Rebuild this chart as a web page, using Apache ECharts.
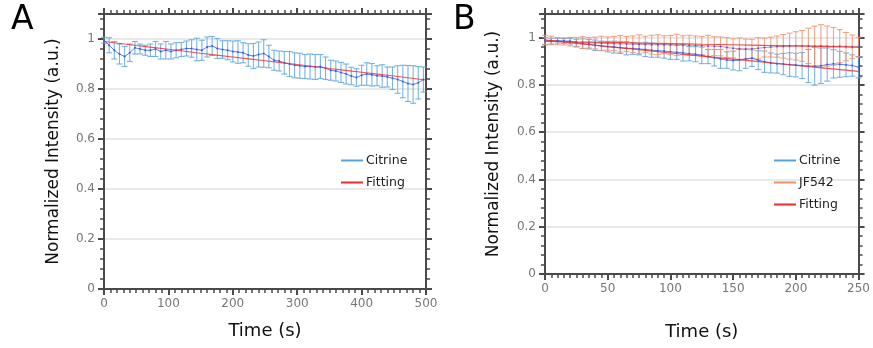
<!DOCTYPE html>
<html>
<head>
<meta charset="utf-8">
<script src="https://cdn.jsdelivr.net/npm/echarts@6/dist/echarts.min.js"></script>
<style>html,body{margin:0;padding:0;background:#fff;}#c{width:873px;height:348px;}</style>
</head>
<body>
<div id="c"></div>
<script>
// ---- Panel A data ----
const timeA = [0,8,16,24,32,40,48,56,64,72,80,88,96,104,112,120,128,136,144,152,160,168,176,184,192,200,208,216,224,232,240,248,256,264,272,280,288,296,304,312,320,328,336,344,352,360,368,376,384,392,400,408,416,424,432,440,448,456,464,472,480,488,496];
const citrineA = [0.995,0.975,0.955,0.94,0.93,0.945,0.965,0.96,0.955,0.955,0.96,0.95,0.955,0.95,0.955,0.958,0.962,0.962,0.958,0.955,0.968,0.972,0.962,0.958,0.955,0.95,0.948,0.945,0.936,0.932,0.938,0.942,0.93,0.915,0.912,0.905,0.9,0.895,0.893,0.89,0.89,0.888,0.89,0.883,0.875,0.872,0.866,0.86,0.852,0.846,0.855,0.86,0.857,0.853,0.852,0.848,0.843,0.838,0.83,0.822,0.818,0.825,0.838];
const citrineAErr = [0.012,0.03,0.035,0.04,0.04,0.035,0.025,0.02,0.02,0.025,0.03,0.03,0.035,0.03,0.03,0.028,0.03,0.035,0.045,0.04,0.04,0.038,0.04,0.035,0.038,0.042,0.045,0.04,0.045,0.05,0.05,0.055,0.045,0.04,0.04,0.045,0.05,0.05,0.05,0.048,0.05,0.05,0.048,0.045,0.04,0.04,0.04,0.04,0.035,0.035,0.04,0.045,0.045,0.04,0.045,0.04,0.045,0.055,0.065,0.072,0.075,0.065,0.05];
const fitTimeA = [0,50,100,150,200,250,300,350,400,450,500];
const fitA = [0.990,0.974,0.959,0.943,0.928,0.913,0.898,0.882,0.867,0.852,0.836];

// ---- Panel B data ----
const timeB = [0,5,10,15,20,25,30,35,40,45,50,55,60,65,70,75,80,85,90,95,100,105,110,115,120,125,130,135,140,145,150,155,160,165,170,175,180,185,190,195,200,205,210,215,220,225,230,235,240,245,250];
const citrineB = [0.985,0.985,0.987,0.986,0.985,0.978,0.975,0.972,0.968,0.965,0.962,0.96,0.958,0.955,0.954,0.952,0.95,0.947,0.945,0.943,0.94,0.938,0.936,0.932,0.93,0.925,0.92,0.915,0.91,0.905,0.903,0.905,0.91,0.913,0.905,0.898,0.893,0.89,0.888,0.886,0.884,0.882,0.88,0.879,0.881,0.886,0.889,0.887,0.885,0.882,0.875];
const citrineBErr = [0.015,0.012,0.01,0.01,0.012,0.015,0.02,0.02,0.022,0.02,0.022,0.025,0.025,0.028,0.025,0.025,0.03,0.03,0.028,0.03,0.032,0.03,0.035,0.03,0.032,0.035,0.03,0.035,0.04,0.035,0.04,0.045,0.04,0.035,0.04,0.045,0.042,0.04,0.045,0.05,0.05,0.055,0.07,0.08,0.075,0.07,0.06,0.055,0.05,0.045,0.045];
const jfB = [0.99,0.988,0.985,0.984,0.983,0.98,0.979,0.978,0.977,0.976,0.975,0.975,0.974,0.973,0.972,0.972,0.971,0.97,0.97,0.97,0.969,0.969,0.968,0.968,0.967,0.966,0.965,0.964,0.963,0.958,0.955,0.953,0.952,0.953,0.955,0.958,0.96,0.962,0.963,0.964,0.965,0.965,0.965,0.964,0.965,0.964,0.963,0.964,0.962,0.961,0.96];
const jfBErr = [0.02,0.018,0.015,0.015,0.018,0.02,0.025,0.022,0.025,0.03,0.028,0.03,0.035,0.032,0.035,0.04,0.035,0.04,0.042,0.038,0.04,0.045,0.04,0.042,0.04,0.038,0.045,0.04,0.04,0.042,0.04,0.045,0.042,0.04,0.045,0.04,0.042,0.045,0.05,0.055,0.06,0.065,0.075,0.085,0.09,0.085,0.08,0.07,0.06,0.05,0.042];
const fitTimeB = [0,25,50,75,100,125,150,175,200,225,250];
const fitCitrineB = [0.990,0.976,0.962,0.949,0.935,0.922,0.909,0.896,0.883,0.870,0.857];
const fitJfB = [0.985,0.982,0.980,0.977,0.975,0.972,0.970,0.967,0.965,0.962,0.960];

const yTicks = [0,0.2,0.4,0.6,0.8,1];

const FONT = 'DejaVu Sans';
const AX = '#4a4a4a';
const BLUE_ERR = '#58a3dc';
const ORANGE_ERR = '#ef8f68';
const MEAN = '#3a5bf0';
const FIT = '#ee2a2a';

function errRender(params, api) {
  const x = api.value(0), lo = api.value(1), hi = api.value(2);
  const p1 = api.coord([x, lo]), p2 = api.coord([x, hi]);
  const cw = 3;
  const style = { stroke: api.visual('color'), lineWidth: 1.1, opacity: 0.8 };
  return { type: 'group', children: [
    { type: 'line', shape: { x1: p1[0], y1: p1[1], x2: p2[0], y2: p2[1] }, style: style },
    { type: 'line', shape: { x1: p1[0]-cw, y1: p1[1], x2: p1[0]+cw, y2: p1[1] }, style: style },
    { type: 'line', shape: { x1: p2[0]-cw, y1: p2[1], x2: p2[0]+cw, y2: p2[1] }, style: style }
  ]};
}
function errData(t, m, e) { return t.map((v, i) => [v, m[i]-e[i], m[i]+e[i]]); }
function pts(t, m) { return t.map((v, i) => [v, m[i]]); }

function xAxes(grid, max, interval, nameGap) {
  const common = {
    type: 'value', gridIndex: grid, min: 0, max: max, interval: interval,
    axisLine: { show: true, onZero: false, lineStyle: { color: AX, width: 2 } },
    axisTick: { show: true, length: 6, lineStyle: { color: AX, width: 2 } },
    minorTick: { show: true, splitNumber: 10, length: 4, lineStyle: { color: AX, width: 1.5 } },
    splitLine: { show: false }
  };
  return [
    Object.assign({}, common, {
      position: 'bottom',
      axisLabel: { color: '#777', fontFamily: FONT, fontSize: 12, margin: 9 },
      name: 'Time (s)', nameLocation: 'middle', nameGap: nameGap,
      nameTextStyle: { color: '#111', fontFamily: FONT, fontSize: 18 }
    }),
    Object.assign({}, common, { position: 'top', axisLabel: { show: false } })
  ];
}
function yAxes(grid, nameGap) {
  const common = {
    type: 'value', gridIndex: grid, min: 0, max: 1.1, interval: 0.2,
    axisLine: { show: true, onZero: false, lineStyle: { color: AX, width: 2 } },
    axisTick: { show: true, length: 6, lineStyle: { color: AX, width: 2 } },
    minorTick: { show: true, splitNumber: 5, length: 4, lineStyle: { color: AX, width: 1.5 } }
  };
  return [
    Object.assign({}, common, {
      position: 'left',
      axisLabel: { color: '#777', fontFamily: FONT, fontSize: 12, margin: 9, showMaxLabel: false,
        formatter: v => yTicks.indexOf(+v.toFixed(2)) >= 0 ? String(+v.toFixed(2)) : '' },
      splitLine: { show: true, lineStyle: { color: '#e2e2e2', width: 1.5 } },
      name: 'Normalized Intensity (a.u.)', nameLocation: 'middle', nameGap: nameGap, nameRotate: 90,
      nameTextStyle: { color: '#111', fontFamily: FONT, fontSize: 17 }
    }),
    Object.assign({}, common, { position: 'right', axisLabel: { show: false }, splitLine: { show: false } })
  ];
}

const chart = echarts.init(document.getElementById('c'), null, { renderer: 'canvas' });
const xa = xAxes(0, 500, 100, 33).concat(xAxes(1, 250, 50, 49));
const ya = yAxes(0, 42).concat(yAxes(1, 43));

chart.setOption({
  animation: false,
  backgroundColor: '#fff',
  textStyle: { fontFamily: FONT },
  grid: [
    { left: 104, top: 14, width: 322, height: 275 },
    { left: 545, top: 14, width: 318, height: 260 }
  ],
  xAxis: xa,
  yAxis: ya,
  legend: [
    { data: ['Citrine', 'Fitting'], orient: 'vertical', left: 336, top: 149, itemWidth: 22, itemHeight: 2, itemGap: 9,
      icon: 'rect', textStyle: { color: '#222', fontFamily: FONT, fontSize: 12.5, padding: [0,0,0,-2] } },
    { data: ['Citrine', 'JF542', 'Fitting'], orient: 'vertical', left: 769, top: 149, itemWidth: 22, itemHeight: 2, itemGap: 9,
      icon: 'rect', textStyle: { color: '#222', fontFamily: FONT, fontSize: 12.5, padding: [0,0,0,-2] } }
  ],
  graphic: [
    { type: 'text', left: 11, top: 4, style: { text: 'A', font: '33px "DejaVu Sans"', fill: '#000' } },
    { type: 'text', left: 453, top: 4, style: { text: 'B', font: '33px "DejaVu Sans"', fill: '#000' } }
  ],
  series: [
    // Panel A
    { name: 'Citrine', type: 'custom', xAxisIndex: 0, yAxisIndex: 0, renderItem: errRender,
      itemStyle: { color: BLUE_ERR }, encode: { x: 0, y: [1, 2] }, data: errData(timeA, citrineA, citrineAErr), z: 2 },
    { name: 'meanA', type: 'line', xAxisIndex: 0, yAxisIndex: 0, data: pts(timeA, citrineA),
      symbol: 'circle', symbolSize: 2, showSymbol: true, color: MEAN, lineStyle: { width: 1, color: MEAN, opacity: 0.8 }, z: 3 },
    { name: 'Fitting', type: 'line', xAxisIndex: 0, yAxisIndex: 0, data: pts(fitTimeA, fitA), smooth: true,
      showSymbol: false, color: FIT, lineStyle: { width: 1.2, color: FIT, opacity: 0.8 }, z: 4 },
    // Panel B
    { name: 'Citrine', type: 'custom', xAxisIndex: 2, yAxisIndex: 2, renderItem: errRender,
      itemStyle: { color: BLUE_ERR }, encode: { x: 0, y: [1, 2] }, data: errData(timeB, citrineB, citrineBErr), z: 2 },
    { name: 'JF542', type: 'custom', xAxisIndex: 2, yAxisIndex: 2, renderItem: errRender,
      itemStyle: { color: ORANGE_ERR }, encode: { x: 0, y: [1, 2] }, data: errData(timeB, jfB, jfBErr), z: 2 },
    { name: 'meanCitB', type: 'line', xAxisIndex: 2, yAxisIndex: 2, data: pts(timeB, citrineB),
      symbol: 'circle', symbolSize: 2, color: MEAN, lineStyle: { width: 1, color: MEAN, opacity: 0.8 }, z: 3 },
    { name: 'meanJfB', type: 'line', xAxisIndex: 2, yAxisIndex: 2, data: pts(timeB, jfB),
      symbol: 'circle', symbolSize: 2, color: MEAN, lineStyle: { width: 1, color: '#e8706a', opacity: 0.8 }, z: 3 },
    { name: 'Fitting', type: 'line', xAxisIndex: 2, yAxisIndex: 2, data: pts(fitTimeB, fitCitrineB), smooth: true,
      showSymbol: false, color: FIT, lineStyle: { width: 1.2, color: FIT, opacity: 0.8 }, z: 4 },
    { name: 'Fitting', type: 'line', xAxisIndex: 2, yAxisIndex: 2, data: pts(fitTimeB, fitJfB), smooth: true,
      showSymbol: false, color: FIT, lineStyle: { width: 1.2, color: FIT, opacity: 0.8 }, z: 4 }
  ]
});
</script>
</body>
</html>
